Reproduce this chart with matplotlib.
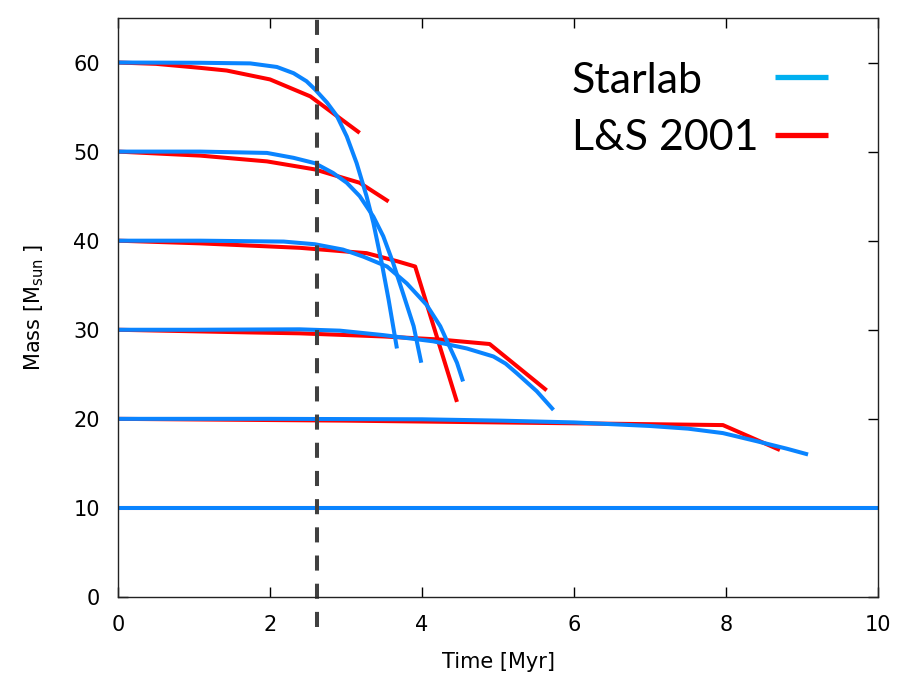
import numpy as np
import matplotlib
matplotlib.use("Agg")
import matplotlib.pyplot as plt
from matplotlib.lines import Line2D

# Starlab tracks (time in Myr, mass in Msun)
s60_t = [0, 1.08, 1.74, 2.09, 2.31, 2.48, 2.59, 2.75, 2.88, 3.01, 3.14, 3.27, 3.36, 3.47, 3.56, 3.67]
s60_m = [60, 59.97, 59.9, 59.5, 58.8, 57.9, 57.0, 55.5, 54.0, 51.7, 48.7, 45.0, 42.0, 37.5, 33.4, 27.9]
s50_t = [0, 1.08, 1.96, 2.31, 2.59, 2.83, 3.01, 3.18, 3.36, 3.49, 3.62, 3.75, 3.89, 3.99]
s50_m = [50, 50.0, 49.85, 49.3, 48.7, 47.6, 46.5, 45.0, 42.7, 40.5, 37.5, 34.1, 30.4, 26.3]
s40_t = [0, 1.08, 2.18, 2.59, 2.96, 3.23, 3.54, 3.80, 4.06, 4.24, 4.32, 4.46, 4.54]
s40_m = [40, 40.0, 39.9, 39.6, 39.0, 38.2, 37.1, 35.2, 32.8, 30.4, 28.9, 26.3, 24.2]
s30_t = [0, 1.0, 2.39, 2.92, 3.49, 4.15, 4.59, 4.94, 5.1, 5.25, 5.51, 5.73]
s30_m = [30, 30, 30.05, 29.9, 29.4, 28.7, 27.9, 27.0, 26.2, 25.1, 23.1, 21.0]
s20_t = [0, 2.0, 4.0, 5.03, 6.0, 7.0, 7.5, 7.96, 8.4, 8.8, 9.08]
s20_m = [20, 20, 19.95, 19.8, 19.6, 19.2, 18.9, 18.4, 17.5, 16.65, 16.0]
s10_t = [0, 10]
s10_m = [10, 10]

# L&S 2001 tracks
r60_t = [0, 0.5, 1.08, 1.43, 2.0, 2.53, 3.18]
r60_m = [60, 59.85, 59.4, 59.1, 58.1, 56.2, 52.1]
r50_t = [0, 1.08, 1.96, 2.59, 3.18, 3.56]
r50_m = [50, 49.55, 48.9, 48.0, 46.5, 44.4]
r40_t = [0, 1.08, 2.39, 3.27, 3.67, 3.91, 4.46]
r40_m = [40, 39.7, 39.2, 38.6, 37.7, 37.1, 21.9]
r30_t = [0, 1.74, 2.39, 3.49, 4.24, 4.89, 5.64]
r30_m = [30, 29.7, 29.6, 29.25, 28.9, 28.4, 23.2]
r20_t = [0, 3.0, 5.0, 6.0, 7.0, 7.96, 8.71]
r20_m = [20, 19.8, 19.6, 19.5, 19.4, 19.3, 16.5]
r10_t = [0, 10]
r10_m = [10, 10]

t_mark = 2.62  # dashed vertical line

starlab = [(s60_t, s60_m), (s50_t, s50_m), (s40_t, s40_m),
           (s30_t, s30_m), (s20_t, s20_m), (s10_t, s10_m)]
ls2001 = [(r60_t, r60_m), (r50_t, r50_m), (r40_t, r40_m),
          (r30_t, r30_m), (r20_t, r20_m), (r10_t, r10_m)]

blue = "#0a84ff"
red = "#ff0000"

fig = plt.figure(figsize=(8.99, 6.73), dpi=100)
ax = fig.add_axes([0.1313, 0.1129, 0.8453, 0.8604])

for t, m in ls2001:
    ax.plot(t, m, color=red, lw=2.9, solid_capstyle="butt")
for t, m in starlab:
    ax.plot(t, m, color=blue, lw=2.9, solid_capstyle="butt")

ax.axvline(t_mark, ymin=-0.052, ymax=1.017, clip_on=False, color="#404040",
           lw=2.9, linestyle=(0, (3.75, 3.25)))

ax.set_xlim(0, 10)
ax.set_ylim(0, 65)
ax.set_xticks([0, 2, 4, 6, 8, 10])
ax.set_yticks([0, 10, 20, 30, 40, 50, 60])
ax.tick_params(direction="in", length=7, width=1, top=True, right=True,
               labelsize=15, pad=13)
for sp in ax.spines.values():
    sp.set_linewidth(1)
    sp.set_color("#222222")

ax.set_xlabel("Time [Myr]", fontsize=15, labelpad=12)
ax.set_ylabel(r"Mass [M$_{\rm sun}$ ]", fontsize=15, labelpad=20)

# legend drawn by hand: text on the left, key line on the right
W, H = 899, 673
leg_labels = ["Starlab", "L&S 2001"]
leg_colors = ["#00b0f0", red]
leg_base = [93, 150]
leg_key_y = [77, 135]
for lab, col, yb, yk in zip(leg_labels, leg_colors, leg_base, leg_key_y):
    fig.text(572 / W, 1 - yb / H, lab, fontsize=31, family="Lato",
             ha="left", va="baseline")
    fig.add_artist(Line2D([775 / W, 828 / W], [1 - yk / H, 1 - yk / H],
                          transform=fig.transFigure, color=col, lw=3.8,
                          solid_capstyle="butt"))

fig.savefig("out.png", dpi=100)
